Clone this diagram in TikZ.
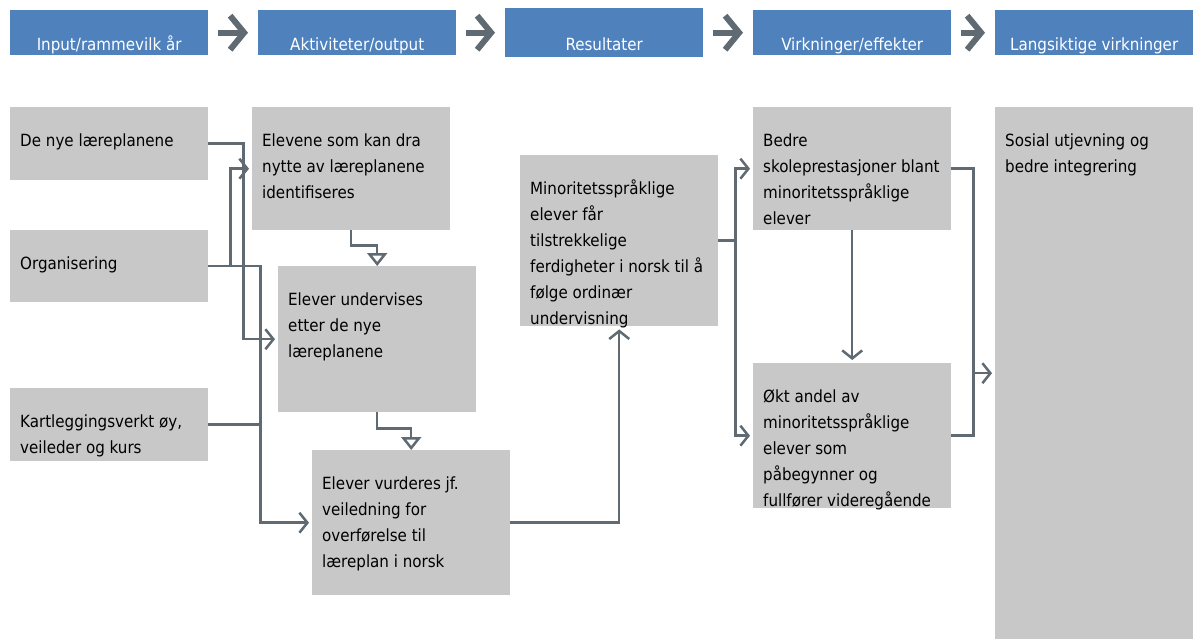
\documentclass[tikz,border=0pt]{standalone}
\usepackage{fontspec}
\setmainfont{DejaVu Sans Condensed}
\usetikzlibrary{arrows.meta,calc}

\definecolor{hdrblue}{RGB}{79,129,189}
\definecolor{boxgray}{RGB}{200,200,200}
\definecolor{linegray}{RGB}{95,106,114}

\newcommand{\bodyfont}{\fontsize{16.8pt}{26pt}\selectfont}
\newcommand{\hdrfont}{\fontsize{16.8pt}{19pt}\selectfont}
% text set at the top of a fixed-size box
\newcommand{\boxtext}[3]{\parbox[c][#2][t]{#1}{\raggedright\rule{0pt}{39pt}#3}}

\begin{document}
\begin{tikzpicture}[x=1pt,y=-1pt,
  hdr/.style={fill=hdrblue,text=white,anchor=north west,inner sep=0pt,font=\hdrfont,
    minimum width=198pt,text height=40.5pt,text depth=4.5pt},
  gbox/.style={fill=boxgray,anchor=north west,inner ysep=0pt,inner xsep=10pt,font=\bodyfont},
  line/.style={draw=linegray,line width=2.5pt},
  conn/.style={line,-{Straight Barb[length=8pt,width=20pt]},shorten >=3pt},
  elbow/.style={line,-{Triangle[open,length=13pt,width=20pt]}},
  harrow/.style={draw=linegray,line width=6pt,-{Straight Barb[length=14pt,width=34pt]}}]
\useasboundingbox (0,0) rectangle (1193,639);

% headers
\node[hdr] (h1) at (10,10) {Input/rammevilk år};
\node[hdr] (h2) at (258,10) {Aktiviteter/output};
\node[hdr,text height=42.5pt,text depth=6.5pt] (h3) at (505,8) {Resultater};
\node[hdr] (h4) at (753,10) {Virkninger/effekter};
\node[hdr] (h5) at (995,10) {Langsiktige virkninger};

\draw[harrow] ([xshift=10]h1.east) -- ([xshift=-10]h2.west);
\draw[harrow] ([xshift=10]h2.east) -- ([xshift=-10]h3.west);
\draw[harrow] ([xshift=10]h3.east) -- ([xshift=-10]h4.west);
\draw[harrow] ([xshift=10]h4.east) -- ([xshift=-10]h5.west);

% input
\node[gbox] (denye) at (10,107) {\boxtext{178pt}{73pt}{De nye læreplanene}};
\node[gbox] (org) at (10,230) {\boxtext{178pt}{72pt}{Organisering}};
\node[gbox] (kart) at (10,388) {\boxtext{178pt}{73pt}{Kartleggingsverkt øy,\\ veileder og kurs}};

% aktiviteter
\node[gbox] (a1) at (252,107) {\boxtext{178pt}{123pt}{Elevene som kan dra\\ nytte av læreplanene\\ identifiseres}};
\node[gbox] (a2) at (278,266) {\boxtext{178pt}{146pt}{Elever undervises\\ etter de nye\\ læreplanene}};
\node[gbox] (a3) at (312,450) {\boxtext{178pt}{145pt}{Elever vurderes jf.\\ veiledning for\\ overførelse til\\ læreplan i norsk}};

% resultater
\node[gbox] (res) at (520,155) {\boxtext{178pt}{171pt}{Minoritetsspråklige\\ elever får\\ tilstrekkelige\\ ferdigheter i norsk til å\\ følge ordinær\\ undervisning}};

% virkninger
\node[gbox] (e1) at (753,107) {\boxtext{178pt}{123pt}{Bedre\\ skoleprestasjoner blant\\ minoritetsspråklige\\ elever}};
\node[gbox] (e2) at (753,363) {\boxtext{178pt}{145pt}{Økt andel av\\ minoritetsspråklige\\ elever som\\ påbegynner og\\ fullfører videregående}};

% langsiktige
\node[gbox] (long) at (995,107) {\boxtext{178pt}{532pt}{Sosial utjevning og\\ bedre integrering}};

% connectors from input
\draw[conn] (denye.east) -- ++(35,0) |- (a2.west);
\draw[conn] (org.east) -- ++(22,0) |- (a1.west);
\draw[conn] (org.east) -- ++(52,0) |- (a3.west);
\draw[line] (kart.east) -- ++(52,0);

\draw[elbow] (a1.south) -- ++(0,15) -| (a2.north);
\draw[elbow] (a2.south) -- ++(0,16) -| (a3.north);

\draw[conn] (a3.east) -| (res.south);

\draw[line] (res.east) -- ++(17,0) coordinate (rsplit);
\draw[conn] (rsplit) |- (e1.west);
\draw[conn] (rsplit) |- (e2.west);

\draw[conn] (e1.south) -- (e2.north);

\draw[line] (e1.east) -- ++(22,0) |- (e2.east);
\draw[conn] ([xshift=22]e1.east |- long.west) -- (long.west);
\end{tikzpicture}
\end{document}
